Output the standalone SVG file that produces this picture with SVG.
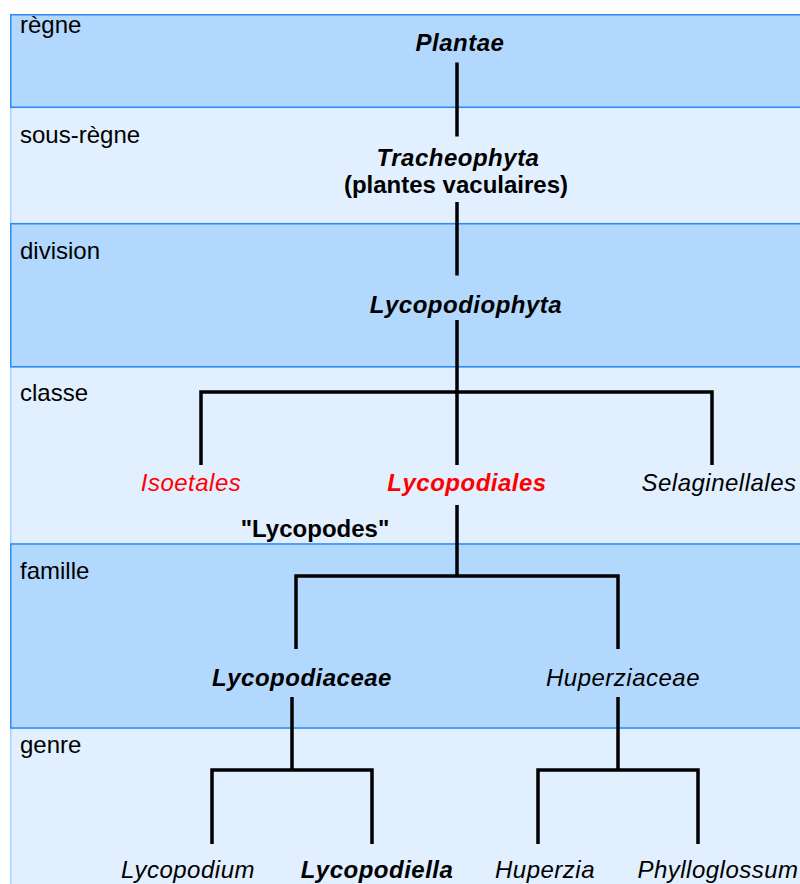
<svg xmlns="http://www.w3.org/2000/svg" width="800" height="884" viewBox="0 0 800 884">
<style>
.dark{fill:#b3d8fd;stroke:#2b8cf5;stroke-width:1.5}
.light{fill:#e1effe;stroke:#a9d2fb;stroke-width:1.5}
text{font-family:"Liberation Sans",Arial,sans-serif;font-size:24px;fill:#000}
.rank{text-anchor:start}
.n{text-anchor:middle;letter-spacing:0.5px}
.i{font-style:italic}
.b{font-weight:bold}
.red{fill:#ff0000}
.c{fill:none;stroke:#000;stroke-width:3.5;stroke-linecap:butt;stroke-linejoin:miter}
</style>
<rect x="0" y="0" width="800" height="884" fill="#ffffff"/>
<g id="bands">
<rect class="light" x="10.75" y="107.5" width="800" height="116"/>
<rect class="light" x="10.75" y="367" width="800" height="177"/>
<rect class="light" x="10.75" y="728" width="800" height="170"/>
<rect class="dark" x="10.75" y="14.75" width="800" height="92.5"/>
<rect class="dark" x="10.75" y="223.75" width="800" height="143"/>
<rect class="dark" x="10.75" y="544" width="800" height="184"/>
</g>
<g id="ranks">
<text class="rank" x="20" y="33">règne</text>
<text class="rank" x="20" y="143">sous-règne</text>
<text class="rank" x="20" y="259">division</text>
<text class="rank" x="20" y="401">classe</text>
<text class="rank" x="20" y="579">famille</text>
<text class="rank" x="20" y="753">genre</text>
</g>
<g id="connectors">
<path class="c" d="M457,62.5 V136.5"/>
<path class="c" d="M457,202 V275.5"/>
<path class="c" d="M457,320 V465 M201,465 V392 H712 V465"/>
<path class="c" d="M457,505 V576 M296,649 V576 H618 V649"/>
<path class="c" d="M292,697 V770 M212,844 V770 H372 V844"/>
<path class="c" d="M618,697 V770 M538,844 V770 H698 V844"/>
</g>
<g id="plantae"><text class="n i b" x="460" y="51">Plantae</text></g>
<g id="tracheophyta">
<text class="n i b" x="458" y="166">Tracheophyta</text>
<text class="n b" x="456" y="193" style="letter-spacing:0">(plantes vaculaires)</text>
</g>
<g id="lycopodiophyta"><text class="n i b" x="466" y="313">Lycopodiophyta</text></g>
<g id="isoetales"><text class="n i red" x="191" y="491">Isoetales</text></g>
<g id="lycopodiales"><text class="n i b red" x="467" y="491">Lycopodiales</text></g>
<g id="selaginellales"><text class="n i" x="719" y="491">Selaginellales</text></g>
<g id="lycopodes"><text class="n b" x="315" y="537" style="letter-spacing:0">"Lycopodes"</text></g>
<g id="lycopodiaceae"><text class="n i b" x="302" y="686">Lycopodiaceae</text></g>
<g id="huperziaceae"><text class="n i" x="623" y="686">Huperziaceae</text></g>
<g id="lycopodium"><text class="n i" x="188" y="878">Lycopodium</text></g>
<g id="lycopodiella"><text class="n i b" x="377" y="878">Lycopodiella</text></g>
<g id="huperzia"><text class="n i" x="545" y="878">Huperzia</text></g>
<g id="phylloglossum"><text class="n i" x="718" y="878">Phylloglossum</text></g>
</svg>
